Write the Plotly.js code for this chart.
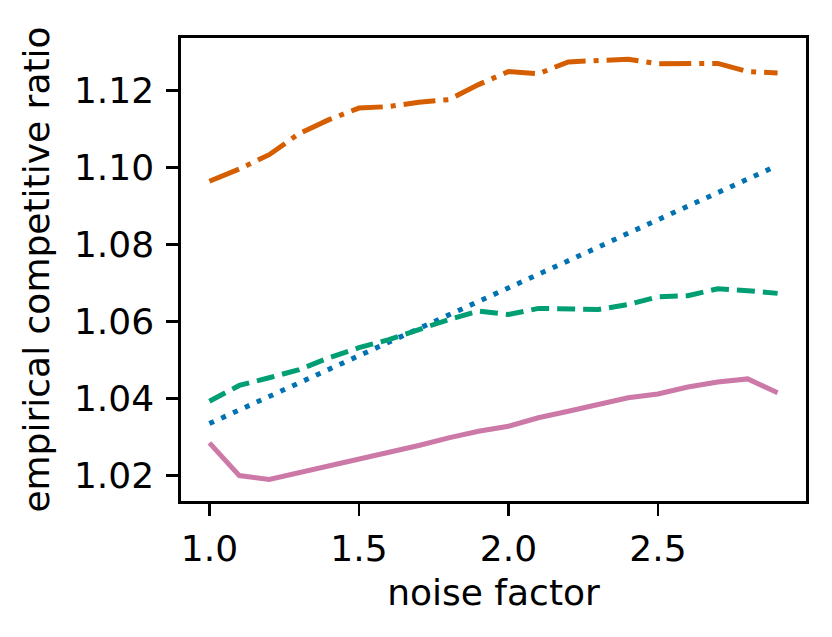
<!DOCTYPE html>
<html>
<head>
<meta charset="utf-8">
<script src="https://cdn.plot.ly/plotly-3.0.1.min.js"></script>
<style>
  html, body { margin: 0; padding: 0; background: #fff; }
  #plot { width: 832px; height: 637px; }
</style>
</head>
<body>
<div id="plot"></div>
<script>
  const noise = [1.0, 1.1, 1.2, 1.3, 1.4, 1.5, 1.6, 1.7, 1.8, 1.9,
                 2.0, 2.1, 2.2, 2.3, 2.4, 2.5, 2.6, 2.7, 2.8, 2.9];

  // orange, dash-dot
  const ratioOrange = [1.0964, 1.0996, 1.1033, 1.1088, 1.1124, 1.1154, 1.1158, 1.1169, 1.1176, 1.1215,
                       1.1249, 1.1243, 1.1274, 1.1278, 1.1281, 1.1269, 1.1270, 1.1270, 1.1249, 1.1245];
  // blue, dotted
  const ratioBlue = [1.0335, 1.0370, 1.0406, 1.0441, 1.0476, 1.0511, 1.0547, 1.0582, 1.0617, 1.0652,
                     1.0688, 1.0723, 1.0758, 1.0793, 1.0829, 1.0864, 1.0899, 1.0934, 1.0970, 1.1005];
  // green, dashed
  const ratioGreen = [1.0393, 1.0434, 1.0454, 1.0475, 1.0506, 1.0532, 1.0553, 1.0579, 1.0605, 1.0627,
                      1.0618, 1.0634, 1.0633, 1.0631, 1.0644, 1.0664, 1.0667, 1.0685, 1.0680, 1.0673];
  // pink, solid
  const ratioPink = [1.0285, 1.0200, 1.0190, 1.0207, 1.0225, 1.0242, 1.0259, 1.0278, 1.0298, 1.0315,
                     1.0328, 1.0350, 1.0367, 1.0385, 1.0402, 1.0412, 1.0430, 1.0443, 1.0451, 1.0415];

  const xTicks = [1.0, 1.5, 2.0, 2.5];
  const yTicks = [1.02, 1.04, 1.06, 1.08, 1.10, 1.12];

  function line(y, color, dash) {
    return {x: noise, y: y, mode: 'lines', line: {color: color, width: 5, dash: dash}, hoverinfo: 'skip'};
  }

  const data = [
    line(ratioOrange, '#d55e00', '32px,8px,5px,8px'),
    line(ratioBlue, '#0072b2', '5px,8px'),
    line(ratioGreen, '#009e73', '18px,8px'),
    line(ratioPink, '#cc79a7', 'solid')
  ];

  const font = {family: 'DejaVu Sans', size: 36, color: '#000'};

  const axisStyle = {
    showline: true, mirror: true, linecolor: '#000', linewidth: 2.7,
    showgrid: false, zeroline: false,
    ticks: 'outside', ticklen: 12, tickwidth: 2.7, tickcolor: '#000',
    tickfont: font, automargin: false
  };

  const layout = {
    width: 832, height: 637,
    margin: {l: 181, r: 26, t: 38, b: 136, pad: 0},
    paper_bgcolor: '#fff', plot_bgcolor: '#fff',
    showlegend: false,
    font: font,
    xaxis: Object.assign({}, axisStyle, {
      range: [0.905, 2.995], tickvals: xTicks, ticktext: xTicks.map(v => v.toFixed(1)),
      ticklabelstandoff: 2,
      title: {text: 'noise factor', font: font, standoff: 12}
    }),
    yaxis: Object.assign({}, axisStyle, {
      range: [1.0134, 1.1336], tickvals: yTicks, ticktext: yTicks.map(v => v.toFixed(2)),
      ticklabelstandoff: 5,
      title: {text: 'empirical competitive ratio', font: font, standoff: 14}
    })
  };

  Plotly.newPlot('plot', data, layout, {staticPlot: true, displayModeBar: false});
</script>
</body>
</html>
